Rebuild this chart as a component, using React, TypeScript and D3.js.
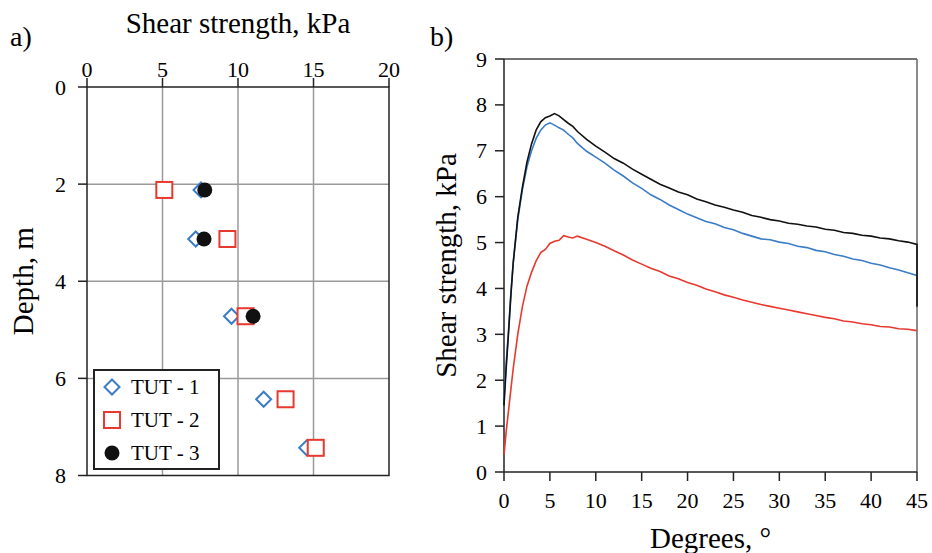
import React from "react";
import * as d3 from "d3";

// ---------- Panel a data ----------
const depthTicks = [0, 2, 4, 6, 8];
const strengthTicksA = [0, 5, 10, 15, 20];
const tut1Depth = [2.12, 3.13, 4.72, 6.43, 7.43];
const tut1Strength = [7.55, 7.2, 9.57, 11.7, 14.55];
const tut2Depth = [2.12, 3.13, 4.72, 6.43, 7.43];
const tut2Strength = [5.12, 9.3, 10.5, 13.15, 15.15];
const tut3Depth = [2.12, 3.13, 4.72];
const tut3Strength = [7.8, 7.75, 11.0];
const legendLabels = ["TUT - 1", "TUT - 2", "TUT - 3"];

// ---------- Panel b data ----------
const degreeTicks = [0, 5, 10, 15, 20, 25, 30, 35, 40, 45];
const strengthTicksB = [0, 1, 2, 3, 4, 5, 6, 7, 8, 9];
const degrees = [
  0, 0.25, 0.5, 0.75, 1, 1.5, 2, 2.5, 3, 3.5, 4, 4.5, 5, 5.5, 6, 6.5, 7, 7.5, 8,
  9, 10, 11, 12, 13, 14, 15, 16, 17, 18, 19, 20, 21, 22, 23, 24, 25, 26, 27, 28,
  29, 30, 31, 32, 33, 34, 35, 36, 37, 38, 39, 40, 41, 42, 43, 44, 45,
];
const curveTut1 = [
  1.6, 2.4, 3.1, 3.9, 4.55, 5.5, 6.15, 6.65, 7.0, 7.27, 7.45, 7.56, 7.61, 7.56,
  7.5, 7.45, 7.36, 7.28, 7.16, 6.99, 6.86, 6.73, 6.58, 6.45, 6.3, 6.18, 6.04,
  5.94, 5.82, 5.72, 5.62, 5.54, 5.46, 5.41, 5.33, 5.28, 5.2, 5.14, 5.08, 5.06,
  5.01, 4.98, 4.92, 4.89, 4.83, 4.8, 4.74, 4.7, 4.64, 4.61, 4.55, 4.51, 4.45,
  4.4, 4.34, 4.28,
];
const curveTut2 = [
  0.37, 0.9, 1.35, 1.8, 2.25, 3.0, 3.6, 4.05, 4.35, 4.6, 4.78, 4.85, 4.98, 5.03,
  5.05, 5.15, 5.12, 5.1, 5.14, 5.07, 5.0, 4.92, 4.82, 4.73, 4.62, 4.53, 4.44,
  4.37, 4.27, 4.21, 4.13, 4.07, 3.99, 3.93, 3.86, 3.81, 3.75, 3.7, 3.65, 3.61,
  3.57, 3.53, 3.49, 3.45, 3.41, 3.37, 3.34, 3.29, 3.27, 3.23, 3.21, 3.17, 3.16,
  3.12, 3.11, 3.08,
];
const curveTut3 = [
  1.45, 2.3, 3.05, 3.85, 4.55, 5.55, 6.2, 6.75, 7.15, 7.45, 7.63, 7.72, 7.76,
  7.81, 7.76, 7.68, 7.6, 7.53, 7.42, 7.25, 7.1, 6.97, 6.83, 6.73, 6.6, 6.49,
  6.38, 6.27, 6.19, 6.1, 6.04, 5.95, 5.89, 5.82, 5.77, 5.71, 5.66, 5.59, 5.55,
  5.5, 5.47, 5.42, 5.4, 5.36, 5.34, 5.29, 5.27, 5.22, 5.2, 5.16, 5.14, 5.1,
  5.08, 5.04, 5.01, 4.96,
];
const tut3TailDegree = 45;
const tut3TailValue = 3.6;

const BLUE = "#3a7cc6";
const RED = "#e8392f";
const BLACK = "#111";
const FONT = "Liberation Serif";

export default function App() {
  // Panel a scales
  const xA = d3.scaleLinear().domain([0, 20]).range([87, 389]);
  const yA = d3.scaleLinear().domain([0, 8]).range([87, 475.5]);
  // Panel b scales
  const xB = d3.scaleLinear().domain([0, 45]).range([504, 917]);
  const yB = d3.scaleLinear().domain([0, 9]).range([472, 59]);

  const line = d3
    .line<[number, number]>()
    .x((d) => xB(d[0]))
    .y((d) => yB(d[1]));

  const s1 = degrees.map((d, i) => [d, curveTut1[i]] as [number, number]);
  const s2 = degrees.map((d, i) => [d, curveTut2[i]] as [number, number]);
  const s3 = degrees.map((d, i) => [d, curveTut3[i]] as [number, number]);
  s3.push([tut3TailDegree, tut3TailValue]);

  const diamond = (cx: number, cy: number, r: number) =>
    `M${cx},${cy - r}L${cx + r},${cy}L${cx},${cy + r}L${cx - r},${cy}Z`;

  const marker = (k: number, cx: number, cy: number, key: string) => {
    if (k === 0)
      return (
        <path key={key} d={diamond(cx, cy, 7.5)} fill="white" stroke={BLUE} strokeWidth={2} />
      );
    if (k === 1)
      return (
        <rect key={key} x={cx - 8} y={cy - 8} width={16} height={16} fill="white" stroke={RED} strokeWidth={2} />
      );
    return <circle key={key} cx={cx} cy={cy} r={7.5} fill={BLACK} />;
  };

  const [a0, a1] = xA.range();
  const [b0, b1] = yA.range();
  const ts = { fontFamily: FONT } as React.CSSProperties;

  return (
    <svg
      width={932}
      height={553}
      style={{ position: "absolute", left: 0, top: 0, background: "white", fontFamily: FONT }}
    >
      <rect width={932} height={553} fill="white" />
      {/* ===== Panel a ===== */}
      <text x={10} y={46} fontSize={28} style={ts}>a)</text>
      <text x={(a0 + a1) / 2} y={33} fontSize={29} textAnchor="middle" style={ts}>
        Shear strength, kPa
      </text>
      <text
        transform={`translate(33,${(b0 + b1) / 2}) rotate(-90)`}
        fontSize={29}
        textAnchor="middle"
        style={ts}
      >
        Depth, m
      </text>
      {/* grid */}
      {strengthTicksA.slice(1, -1).map((t) => (
        <line key={"gx" + t} x1={xA(t)} x2={xA(t)} y1={b0} y2={b1} stroke="#9a9a9a" strokeWidth={1.5} />
      ))}
      {depthTicks.slice(1, -1).map((t) => (
        <line key={"gy" + t} x1={a0} x2={a1} y1={yA(t)} y2={yA(t)} stroke="#9a9a9a" strokeWidth={1.5} />
      ))}
      <rect x={a0} y={b0} width={a1 - a0} height={b1 - b0} fill="none" stroke="#222" strokeWidth={1.5} />
      {strengthTicksA.map((t) => (
        <g key={"tx" + t}>
          <line x1={xA(t)} x2={xA(t)} y1={b0 - 9} y2={b0} stroke="#222" strokeWidth={1.5} />
          <text x={xA(t)} y={b0 - 10} fontSize={22} textAnchor="middle" style={ts}>{t}</text>
        </g>
      ))}
      {depthTicks.map((t) => (
        <g key={"ty" + t}>
          <line x1={a0 - 9} x2={a0} y1={yA(t)} y2={yA(t)} stroke="#222" strokeWidth={1.5} />
          <text x={a0 - 21} y={yA(t) + 7.5} fontSize={22} textAnchor="end" style={ts}>{t}</text>
        </g>
      ))}
      {/* points */}
      {tut1Depth.map((d, i) => marker(0, xA(tut1Strength[i]), yA(d), "p1" + i))}
      {tut2Depth.map((d, i) => marker(1, xA(tut2Strength[i]), yA(d), "p2" + i))}
      {tut3Depth.map((d, i) => marker(2, xA(tut3Strength[i]), yA(d), "p3" + i))}
      {/* legend */}
      <rect x={94} y={370} width={125} height={99} fill="white" stroke="#222" strokeWidth={2} />
      {legendLabels.map((l, i) => (
        <g key={"lg" + i}>
          {marker(i, 112, 387 + i * 33, "lm" + i)}
          <text x={131} y={394 + i * 33} fontSize={21} style={ts}>{l}</text>
        </g>
      ))}

      {/* ===== Panel b ===== */}
      <text x={430} y={46} fontSize={28} style={ts}>b)</text>
      <text
        transform={`translate(456,${(yB(0) + yB(9)) / 2}) rotate(-90)`}
        fontSize={29}
        textAnchor="middle"
        style={ts}
      >
        Shear strength, kPa
      </text>
      <text x={(xB(0) + xB(45)) / 2} y={548} fontSize={29} textAnchor="middle" style={ts}>
        Degrees, °
      </text>
      <line x1={xB(0)} x2={xB(45)} y1={yB(9)} y2={yB(9)} stroke="#444" strokeWidth={1.5} />
      <line x1={xB(45)} x2={xB(45)} y1={yB(9)} y2={yB(0)} stroke="#666" strokeWidth={1.5} />
      <line x1={xB(0)} x2={xB(0)} y1={yB(9)} y2={yB(0)} stroke="#222" strokeWidth={1.5} />
      <line x1={xB(0)} x2={xB(45)} y1={yB(0)} y2={yB(0)} stroke="#222" strokeWidth={1.5} />
      {degreeTicks.map((t) => (
        <g key={"bx" + t}>
          <line x1={xB(t)} x2={xB(t)} y1={yB(0)} y2={yB(0) + 9} stroke="#222" strokeWidth={1.5} />
          <text x={xB(t)} y={508} fontSize={22} textAnchor="middle" style={ts}>{t}</text>
        </g>
      ))}
      {strengthTicksB.map((t) => (
        <g key={"by" + t}>
          <line x1={xB(0) - 9} x2={xB(0)} y1={yB(t)} y2={yB(t)} stroke="#222" strokeWidth={1.5} />
          <text x={xB(0) - 17} y={yB(t) + 7.5} fontSize={22} textAnchor="end" style={ts}>{t}</text>
        </g>
      ))}
      <path d={line(s2) || ""} fill="none" stroke={RED} strokeWidth={1.6} />
      <path d={line(s1) || ""} fill="none" stroke={BLUE} strokeWidth={1.6} />
      <path d={line(s3) || ""} fill="none" stroke={BLACK} strokeWidth={1.6} />
    </svg>
  );
}
